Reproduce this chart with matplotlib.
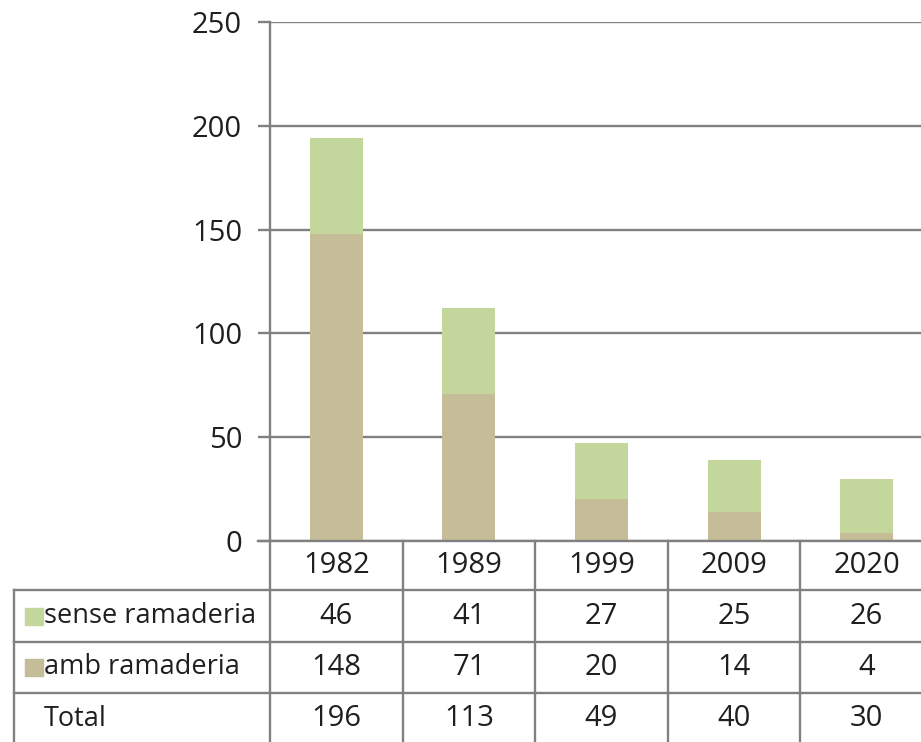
import numpy as np
import matplotlib
matplotlib.use('Agg')
from matplotlib import pyplot as plt
from matplotlib.patches import Rectangle

plt.rcParams['font.family'] = ['Open Sans', 'DejaVu Sans']

years = ['1982', '1989', '1999', '2009', '2020']
sense_ramaderia = [46, 41, 27, 25, 26]
amb_ramaderia = [148, 71, 20, 14, 4]
total = [196, 113, 49, 40, 30]
series_names = ['sense ramaderia', 'amb ramaderia']

green = '#c3d69b'
tan = '#c4bd97'
grid_col = '#808080'
txt_col = '#1f1f1f'
fs = 21

W, H = 921, 742
fig = plt.figure(figsize=(W / 100, H / 100), dpi=100)

# plot area in pixels (right edge runs off the picture)
left, right, top, bottom = 270, 933, 22, 541
ax = fig.add_axes([left / W, 1 - bottom / H, (right - left) / W, (bottom - top) / H])
ax.set_xlim(-0.5, len(years) - 0.5)
ax.set_ylim(0, 250)

x = np.arange(len(years))
ax.bar(x, amb_ramaderia, width=0.4, color=tan, zorder=3)
ax.bar(x, sense_ramaderia, width=0.4, bottom=amb_ramaderia, color=green, zorder=3)

ax.set_yticks(np.arange(0, 251, 50))
ax.yaxis.grid(True, color=grid_col, lw=1.7, zorder=1)
ax.set_xticks([])
ax.tick_params(axis='y', length=9, width=1.7, color=grid_col, labelsize=fs,
               labelcolor=txt_col, pad=11)
for s in ['top', 'right', 'bottom']:
    ax.spines[s].set_visible(False)
ax.spines['left'].set_color(grid_col)
ax.spines['left'].set_linewidth(1.7)

# data table under the bars, built in data coords
ppu = (bottom - top) / 250.0          # pixels per y unit
colw = (right - left) / len(years)    # pixels per category

def yv(py):
    return (bottom - py) / ppu

def xv(px):
    return -0.5 + (px - left) / colw

rows_px = [541, 590, 642, 693, 745]
tbl_left = xv(14)
lk = dict(color=grid_col, lw=1.7, clip_on=False, zorder=4)

# horizontal lines
ax.plot([xv(258), 4.5], [yv(rows_px[0])] * 2, **lk)
for r in rows_px[1:4]:
    ax.plot([tbl_left, 4.5], [yv(r)] * 2, **lk)
# vertical lines
ax.plot([-0.5, -0.5], [0, yv(rows_px[-1])], **lk)
ax.plot([tbl_left, tbl_left], [yv(rows_px[1]), yv(rows_px[-1])], **lk)
for i in range(1, len(years)):
    ax.plot([i - 0.5, i - 0.5], [0, yv(rows_px[-1])], **lk)

def row_mid(k):
    return yv((rows_px[k] + rows_px[k + 1]) / 2)

for i, yr in enumerate(years):
    ax.text(i, row_mid(0), yr, ha='center', va='center', fontsize=fs,
            color=txt_col, clip_on=False)
for k, vals in enumerate([sense_ramaderia, amb_ramaderia, total]):
    for i, v in enumerate(vals):
        ax.text(i, row_mid(k + 1), str(v), ha='center', va='center',
                fontsize=fs, color=txt_col, clip_on=False)

labels = series_names + ['Total']
keys = [green, tan, None]
for k, (lab, c) in enumerate(zip(labels, keys)):
    ym = row_mid(k + 1)
    if c is not None:
        ax.add_patch(Rectangle((xv(25), ym - 8.5 / ppu), 18 / colw, 17 / ppu,
                               color=c, clip_on=False, zorder=4))
    ax.text(xv(44), ym, lab, ha='left', va='center', fontsize=19.5,
            color=txt_col, clip_on=False)

fig.savefig('out.png', dpi=100)
